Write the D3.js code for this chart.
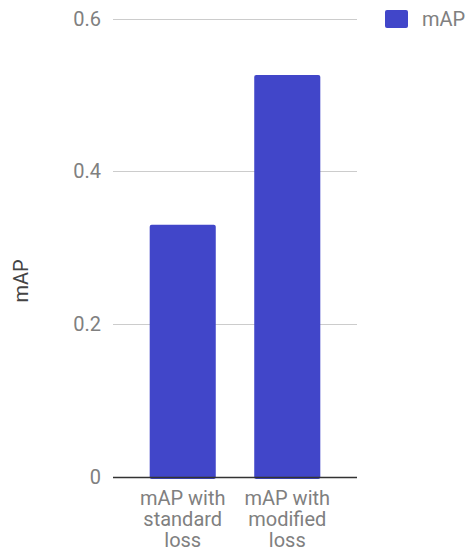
<!DOCTYPE html>
<html>
<head>
<meta charset="utf-8">
<script src="https://cdn.jsdelivr.net/npm/d3@7"></script>
<style>
  body { margin: 0; background: #fff; }
  text { font-family: Roboto, "Noto Sans", sans-serif; }
</style>
</head>
<body>
<div id="chart"></div>
<script>
const categories = [["mAP with", "standard", "loss"], ["mAP with", "modified", "loss"]];
const values = [0.330, 0.526];
const yTicks = [0, 0.2, 0.4, 0.6];
const seriesName = "mAP";

const W = 469, H = 551;
const plotLeft = 113, plotRight = 357, plotTop = 18.5, plotBottom = 477;
const barColor = "#4146c9";
const fontSize = '20px';

const svg = d3.select("#chart").append("svg")
    .attr("width", W)
    .attr("height", H);

const yScale = d3.scaleLinear()
    .domain([0, 0.6])
    .range([plotBottom, plotTop]);

const xScale = d3.scaleBand()
    .domain(d3.range(categories.length))
    .range([plotLeft, plotRight])
    .paddingInner(0.368)
    .paddingOuter(0.351);

// grid lines
svg.append('g')
    .selectAll('line')
    .data(yTicks.filter(t => t > 0))
    .enter()
    .append('line')
    .attr('x1', plotLeft)
    .attr('x2', plotRight)
    .attr('y1', d => Math.round(yScale(d)) + 0.5)
    .attr('y2', d => Math.round(yScale(d)) + 0.5)
    .attr('stroke', '#cccccc')
    .attr('stroke-width', 1);

// tick labels
svg.append('g')
    .selectAll('text')
    .data(yTicks)
    .enter()
    .append('text')
    .attr('x', 101)
    .attr('y', d => yScale(d))
    .attr('dy', '0.35em')
    .attr('text-anchor', 'end')
    .attr('fill', '#808080')
    .style('font-size', fontSize)
    .text(d => d === 0 ? "0" : d.toFixed(1));

// bars
svg.append('g')
    .selectAll('rect')
    .data(values)
    .enter()
    .append('rect')
    .attr('x', (d, i) => xScale(i))
    .attr('y', d => yScale(d))
    .attr('width', xScale.bandwidth())
    .attr('height', d => plotBottom - yScale(d) + 2)
    .attr('rx', 2)
    .attr('fill', barColor);

// baseline
svg.append('line')
    .attr('x1', plotLeft)
    .attr('x2', plotRight)
    .attr('y1', plotBottom + 0.5)
    .attr('y2', plotBottom + 0.5)
    .attr('stroke', '#333333')
    .attr('stroke-width', 1.3);

// category labels
const catLabels = svg.append('g')
    .selectAll('text')
    .data(categories)
    .enter()
    .append('text')
    .attr('text-anchor', 'middle')
    .attr('fill', '#808080')
    .style('font-size', fontSize);

catLabels.selectAll('tspan')
    .data((d, i) => d.map(line => ({line, i})))
    .enter()
    .append('tspan')
    .attr('x', d => xScale(d.i) + xScale.bandwidth() / 2)
    .attr('y', (d, j) => 505 + j * 21)
    .text(d => d.line);

// y axis title
svg.append('text')
    .attr('transform', `translate(28, 281) rotate(-90)`)
    .attr('text-anchor', 'middle')
    .attr('fill', '#444444')
    .style('font-size', fontSize)
    .text(seriesName);

// legend
svg.append('rect')
    .attr('x', 385)
    .attr('y', 10)
    .attr('width', 23)
    .attr('height', 18)
    .attr('rx', 2)
    .attr('fill', barColor);

svg.append('text')
    .attr('x', 422)
    .attr('y', 19)
    .attr('dy', '0.35em')
    .attr('fill', '#808080')
    .style('font-size', fontSize)
    .text(seriesName);
</script>
</body>
</html>
